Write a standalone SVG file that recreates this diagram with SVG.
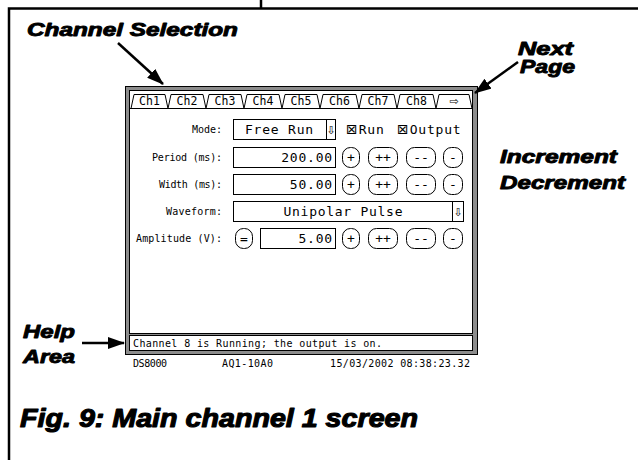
<svg xmlns="http://www.w3.org/2000/svg" width="638" height="460" viewBox="0 0 638 460">
  <style>
    .note{font-family:"Liberation Sans",Arial,sans-serif;font-weight:bold;font-style:italic;font-size:18px;fill:#000;stroke:#000;stroke-width:0.9;stroke-linejoin:round;}
    .cap{font-size:25px;stroke-width:1.1;}
    .lcd{font-family:"DejaVu Sans Mono","DejaVu Sans",monospace;fill:#000;}
    .sm{font-size:10px;}
    .lg{font-size:13px;}
    .chk{font-family:"DejaVu Sans",sans-serif;font-size:14px;}
    .tabt{font-size:11.5px;text-anchor:middle;}
    .mid{text-anchor:middle;}
    .end{text-anchor:end;}
    .box{fill:#fff;stroke:#000;stroke-width:1;}
    .btn{fill:#fff;stroke:#000;stroke-width:1;}
    .tab{fill:#fff;stroke:#000;stroke-width:1;}
    .line{fill:none;stroke:#000;stroke-width:1;}
    .frame{fill:none;stroke:#000;stroke-width:2.5;}
    .pointer{fill:none;stroke:#000;stroke-width:2.5;}
  </style>
  <defs>
    <marker id="head" markerUnits="userSpaceOnUse" markerWidth="17" markerHeight="12" refX="16" refY="6" orient="auto">
      <path d="M0,0 L17,6 L0,12 z" fill="#000"/>
    </marker>
  </defs>

  <rect width="638" height="460" fill="#fff"/>

  <!-- page border -->
  <path class="frame" d="M9,460 V8.5 H638 M261,0 V8.5"/>

  <!-- instrument screen -->
  <g id="screen">
    <rect x="125.5" y="86.5" width="352" height="268" fill="#8c8c8c" stroke="#000"/>
    <rect x="129.5" y="90.5" width="343" height="243" fill="#fff" stroke="#000"/>
    <rect x="129.5" y="335.5" width="343" height="15" fill="#fff" stroke="#000"/>
  </g>

  <!-- channel tabs -->
  <g id="tabs">
    <path class="tab" d="M131,108.5 L134,94.5 L165,94.5 L168,108.5"/>
    <path class="tab" d="M168,108.5 L171,94.5 L203,94.5 L206,108.5"/>
    <path class="tab" d="M206,108.5 L209,94.5 L241,94.5 L244,108.5"/>
    <path class="tab" d="M244,108.5 L247,94.5 L279,94.5 L282,108.5"/>
    <path class="tab" d="M282,108.5 L285,94.5 L317,94.5 L320,108.5"/>
    <path class="tab" d="M320,108.5 L323,94.5 L356,94.5 L359,108.5"/>
    <path class="tab" d="M359,108.5 L362,94.5 L394,94.5 L397,108.5"/>
    <path class="tab" d="M397,108.5 L400,94.5 L433,94.5 L436,108.5"/>
    <path class="tab" d="M436,108.5 L439,94.5 L469,94.5 L472,108.5"/>
    <path class="line" d="M130,108.5 H472"/>
    <text class="lcd tabt" x="149.5" y="105">Ch1</text>
    <text class="lcd tabt" x="187" y="105">Ch2</text>
    <text class="lcd tabt" x="225" y="105">Ch3</text>
    <text class="lcd tabt" x="263" y="105">Ch4</text>
    <text class="lcd tabt" x="301" y="105">Ch5</text>
    <text class="lcd tabt" x="339.5" y="105">Ch6</text>
    <text class="lcd tabt" x="378" y="105">Ch7</text>
    <text class="lcd tabt" x="416.5" y="105">Ch8</text>
    <text class="lcd tabt" x="454" y="105" style="font-family:'DejaVu Sans',sans-serif;font-size:11px">⇨</text>
  </g>

  <!-- mode row -->
  <g id="mode">
    <text class="lcd sm end" x="222" y="133">Mode:</text>
    <rect class="box" x="233.5" y="119.5" width="102" height="20"/>
    <path class="line" d="M326.5,119.5 V139.5"/>
    <text class="lcd lg mid" x="279.5" y="134" letter-spacing="0.8">Free Run</text>
    <text class="lcd mid" x="331" y="134" style="font-family:'DejaVu Sans',sans-serif;font-size:11px">⇩</text>
    <text class="lcd lg" x="346" y="134"><tspan class="chk">⊠</tspan><tspan dx="1" letter-spacing="0.8">Run</tspan></text>
    <text class="lcd lg" x="397" y="134"><tspan class="chk">⊠</tspan><tspan dx="1" letter-spacing="0.8">Output</tspan></text>
  </g>

  <!-- period row -->
  <g id="period">
    <text class="lcd sm end" x="222" y="160.5" textLength="70">Period (ms):</text>
    <rect class="box" x="233.5" y="147.5" width="102" height="20"/>
    <text class="lcd lg end" x="333" y="162" letter-spacing="0.8">200.00</text>
    <rect class="btn" x="342.5" y="147.5" width="17" height="20" rx="8"/>
    <rect class="btn" x="368.5" y="147.5" width="29" height="20" rx="8"/>
    <rect class="btn" x="406.5" y="147.5" width="29" height="20" rx="8"/>
    <rect class="btn" x="443.5" y="147.5" width="19" height="20" rx="8"/>
    <text class="lcd lg mid" x="351" y="162">+</text>
    <text class="lcd lg mid" x="383" y="162">++</text>
    <text class="lcd lg mid" x="421" y="162">--</text>
    <text class="lcd lg mid" x="453" y="162">-</text>
  </g>

  <!-- width row -->
  <g id="width">
    <text class="lcd sm end" x="222" y="187.5" textLength="63">Width (ms):</text>
    <rect class="box" x="233.5" y="174.5" width="102" height="20"/>
    <text class="lcd lg end" x="333" y="189" letter-spacing="0.8">50.00</text>
    <rect class="btn" x="342.5" y="174.5" width="17" height="20" rx="8"/>
    <rect class="btn" x="368.5" y="174.5" width="29" height="20" rx="8"/>
    <rect class="btn" x="406.5" y="174.5" width="29" height="20" rx="8"/>
    <rect class="btn" x="443.5" y="174.5" width="19" height="20" rx="8"/>
    <text class="lcd lg mid" x="351" y="189">+</text>
    <text class="lcd lg mid" x="383" y="189">++</text>
    <text class="lcd lg mid" x="421" y="189">--</text>
    <text class="lcd lg mid" x="453" y="189">-</text>
  </g>

  <!-- waveform row -->
  <g id="waveform">
    <text class="lcd sm end" x="222" y="214.5" textLength="56">Waveform:</text>
    <rect class="box" x="233.5" y="201.5" width="230" height="20"/>
    <path class="line" d="M452.5,201.5 V221.5"/>
    <text class="lcd lg mid" x="343" y="216" textLength="119">Unipolar Pulse</text>
    <text class="lcd mid" x="458" y="216" style="font-family:'DejaVu Sans',sans-serif;font-size:11px">⇩</text>
  </g>

  <!-- amplitude row -->
  <g id="amplitude">
    <text class="lcd sm end" x="222" y="241.5" textLength="86">Amplitude (V):</text>
    <rect class="btn" x="235.5" y="228.5" width="17" height="20" rx="8"/>
    <text class="lcd lg mid" x="244" y="243">=</text>
    <rect class="box" x="260.5" y="228.5" width="75" height="20"/>
    <text class="lcd lg end" x="333" y="243" letter-spacing="0.8">5.00</text>
    <rect class="btn" x="342.5" y="228.5" width="17" height="20" rx="8"/>
    <rect class="btn" x="368.5" y="228.5" width="29" height="20" rx="8"/>
    <rect class="btn" x="406.5" y="228.5" width="29" height="20" rx="8"/>
    <rect class="btn" x="443.5" y="228.5" width="19" height="20" rx="8"/>
    <text class="lcd lg mid" x="351" y="243">+</text>
    <text class="lcd lg mid" x="383" y="243">++</text>
    <text class="lcd lg mid" x="421" y="243">--</text>
    <text class="lcd lg mid" x="453" y="243">-</text>
  </g>

  <!-- help line and status footer -->
  <g id="help">
    <text class="lcd sm" x="133" y="346.5" textLength="249">Channel 8 is Running; the output is on.</text>
  </g>
  <g id="footer">
    <text class="lcd sm" x="133" y="366.5" textLength="34">DS8000</text>
    <text class="lcd sm" x="222" y="366.5" textLength="51">AQ1-10A0</text>
    <text class="lcd sm" x="330" y="366.5" textLength="140">15/03/2002 08:38:23.32</text>
  </g>

  <!-- callouts -->
  <g id="callouts">
    <path class="pointer" d="M118,43 L163,84" marker-end="url(#head)"/>
    <path class="pointer" d="M518,62 L475,93" marker-end="url(#head)"/>
    <path class="pointer" d="M82,343 L124,343" marker-end="url(#head)"/>
  </g>

  <g id="labels">
    <text class="note" x="27" y="36" textLength="211" lengthAdjust="spacingAndGlyphs">Channel Selection</text>
    <text class="note"><tspan x="518" y="55" textLength="55" lengthAdjust="spacingAndGlyphs">Next</tspan><tspan x="520" y="73" textLength="55" lengthAdjust="spacingAndGlyphs">Page</tspan></text>
    <text class="note"><tspan x="500" y="163" textLength="117" lengthAdjust="spacingAndGlyphs">Increment</tspan><tspan x="500" y="189" textLength="125" lengthAdjust="spacingAndGlyphs">Decrement</tspan></text>
    <text class="note"><tspan x="23" y="338" textLength="52" lengthAdjust="spacingAndGlyphs">Help</tspan><tspan x="23" y="363" textLength="52" lengthAdjust="spacingAndGlyphs">Area</tspan></text>
    <text class="note cap" x="20" y="427" textLength="398" lengthAdjust="spacingAndGlyphs">Fig. 9: Main channel 1 screen</text>
  </g>
</svg>
